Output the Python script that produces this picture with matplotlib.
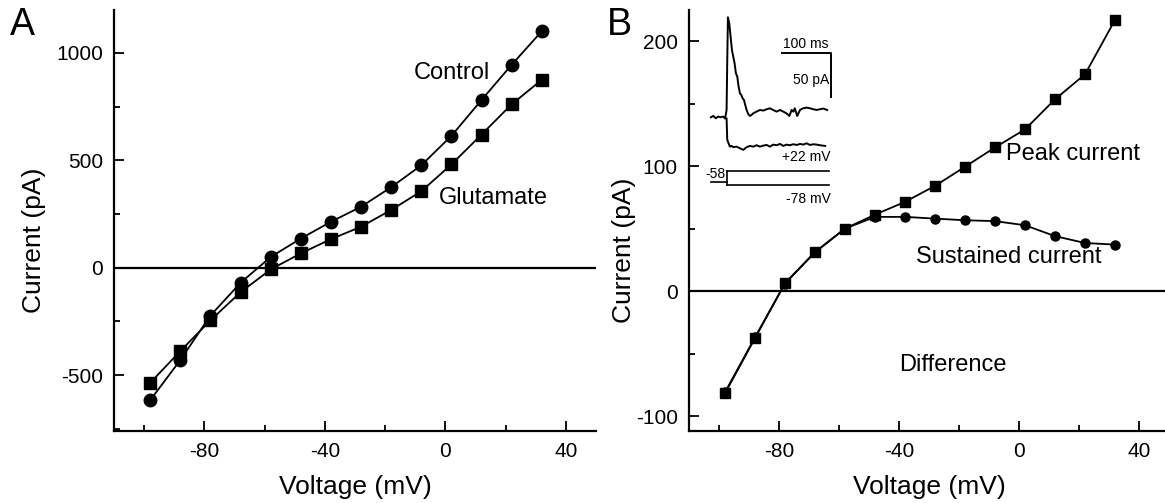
import numpy as np
import matplotlib.pyplot as plt
from matplotlib.ticker import MultipleLocator

plt.rcParams['font.family'] = ['Liberation Sans', 'DejaVu Sans']
plt.rcParams['axes.unicode_minus'] = False

# I-V data (mV, pA)
voltage = [-98, -88, -78, -68, -58, -48, -38, -28, -18, -8, 2, 12, 22, 32]
control = [-617, -430, -223, -70, 50, 136, 214, 284, 375, 477, 614, 781, 945, 1101]
glutamate = [-536, -388, -245, -114, -8, 67, 133, 191, 269, 356, 481, 620, 761, 875]

peak = [-81.8, -37.7, 6.4, 31.3, 50, 61.2, 71.4, 84.2, 99.5, 115, 129.4, 153.5, 173.5, 217]
sustained = [-81, -37, 6, 31, 50, 59.4, 59.4, 58, 56.7, 56, 52.7, 44, 38.5, 37.2]

# inset current traces (ms, pA)
up_t = [-32, -27, -22, -17, -12, -7, -3, 0, 1.4, 2.7, 5.4, 8.2, 10.9, 13.6, 16.3, 19,
        21.8, 24.5, 27.2, 29.9, 32.6, 35.4, 38, 40.8, 44, 47.6, 51, 54.4, 61, 68, 75,
        81.6, 88.4, 95, 102, 109, 115.6, 122, 128, 132.6, 136, 139, 144, 149.6, 156,
        163, 170, 177, 183.6, 190, 197, 205]
up_i = [0, 1.5, -1.1, 0.8, 0, 0.8, -1.5, 8.3, 65, 113.7, 107, 91.7, 76.6, 69, 61.4, 50,
        46.2, 34.9, 27.3, 25.4, 21.6, 19.7, 14, 8.3, 3.8, 1.5, 2.7, 4.5, 6.4, 8.3, 7.6,
        9.1, 10.2, 8.3, 6.4, 8.3, 6.4, 4.5, 1.5, 8.3, 6.4, 10.2, 1.5, 8.3, 10.2,
        11, 10.2, 9.1, 8.3, 9.1, 9.9, 8.3]
down_t = [0, 1.4, 4, 6.8, 10, 13.6, 20, 27, 34, 40.8, 47.6, 54.4, 61, 68, 75, 81.6,
          88.4, 95, 102, 109, 115.6, 122, 129, 136, 143, 150, 156, 163, 170, 177, 184,
          190, 201]
down_i = [-1.5, -25.8, -29.6, -33.4, -32.6, -34, -33.4, -35.2, -37.1, -34, -32.6, -33.4,
          -31.8, -33.4, -32.2, -31.5, -33.4, -31.1, -31.8, -30.3, -32.6, -31.1, -31.8,
          -30.7, -31.5, -30.3, -31.1, -29.6, -31.5, -30.7, -31.1, -31.8, -32.6]

# voltage protocol (mV)
holding_mv = -58
step_up_mv = 22
step_down_mv = -78

W, H = 1165, 503
fig = plt.figure(figsize=(W / 100, H / 100), dpi=100)


def px_axes(x0, y0, x1, y1):
    # axes box given in pixel coords (top-left origin)
    return fig.add_axes([x0 / W, (H - y1) / H, (x1 - x0) / W, (y1 - y0) / H])


def style(ax, ymaj, ymin, ylab_xy):
    for s in ['top', 'right']:
        ax.spines[s].set_visible(False)
    for s in ['left', 'bottom']:
        ax.spines[s].set_linewidth(1.6)
    ax.xaxis.set_major_locator(MultipleLocator(40))
    ax.xaxis.set_minor_locator(MultipleLocator(20))
    ax.yaxis.set_major_locator(MultipleLocator(ymaj))
    ax.yaxis.set_minor_locator(MultipleLocator(ymin))
    ax.tick_params(which='both', direction='in', width=1.3, labelsize=15, pad=8)
    ax.tick_params(which='major', length=7)
    ax.tick_params(which='minor', length=4)
    ax.axhline(0, color='k', lw=1.6)
    ax.set_xlabel('Voltage (mV)', fontsize=19, labelpad=10)
    ax.set_ylabel('Current (pA)', fontsize=19)
    ax.yaxis.set_label_coords(*ylab_xy)


# ---- panel A ----
axA = px_axes(114, 10, 596, 431)
axA.set_xlim(-110, 50)
axA.set_ylim(-760, 1200)
style(axA, 500, 250, (-0.141, 0.454))
axA.plot(voltage, control, '-o', color='k', lw=1.3, ms=9)
axA.plot(voltage, glutamate, '-s', color='k', lw=1.3, ms=8)
axA.text(2, 906, 'Control', fontsize=17, ha='center', va='center')
axA.text(16, 323, 'Glutamate', fontsize=17, ha='center', va='center')
fig.text(22 / W, 1 - 25 / H, 'A', fontsize=27, ha='center', va='center')

# ---- panel B ----
axB = px_axes(689, 10, 1169, 431)
axB.set_xlim(-110, 50)
axB.set_ylim(-112, 225)
style(axB, 100, 50, (-0.110, 0.43))
axB.plot(voltage, sustained, '-o', color='k', lw=1.3, ms=6.5)
axB.plot(voltage, peak, '-s', color='k', lw=1.3, ms=7.5)
axB.text(18, 110, 'Peak current', fontsize=17, ha='center', va='center')
axB.text(-3.5, 27, 'Sustained current', fontsize=17, ha='center', va='center')
axB.text(-22, -59, 'Difference', fontsize=17, ha='center', va='center')
fig.text(619 / W, 1 - 25 / H, 'B', fontsize=27, ha='center', va='center')

# ---- inset: current traces ----
axI = px_axes(705, 10, 835, 160)
axI.set_xlim(-44, 221)
axI.set_ylim(-48.6, 122)
axI.axis('off')
axI.plot(up_t, up_i, color='k', lw=1.4)
axI.plot(down_t, down_i, color='k', lw=1.4)
# scale bar 100 ms / 50 pA
axI.plot([112, 212, 212], [73.5, 73.5, 23.5], color='k', lw=1.4)
axI.text(162, 75, '100 ms', fontsize=10, ha='center', va='bottom')
axI.text(209, 42, '50 pA', fontsize=10, ha='right', va='center')
axI.text(212, -45, '+22 mV', fontsize=10, ha='right', va='center')

# ---- inset: voltage protocol ----
axP = px_axes(705, 165, 835, 210)
axP.set_xlim(-44, 221)
axP.set_ylim(-256.6, 64.9)
axP.axis('off')
axP.plot([-32, 0], [holding_mv, holding_mv], color='k', lw=1.2)
axP.plot([0, 0], [step_down_mv, step_up_mv], color='k', lw=1.2)
axP.plot([0, 208], [step_up_mv, step_up_mv], color='k', lw=1.2)
axP.plot([0, 208], [step_down_mv, step_down_mv], color='k', lw=1.2)
axP.annotate('-58', (-22, holding_mv), xytext=(0, 1), textcoords='offset points',
             fontsize=10, ha='center', va='bottom')
axP.annotate('-78 mV', (212, step_down_mv), xytext=(0, -5), textcoords='offset points',
             fontsize=10, ha='right', va='top')

fig.savefig('out.png', dpi=100)
